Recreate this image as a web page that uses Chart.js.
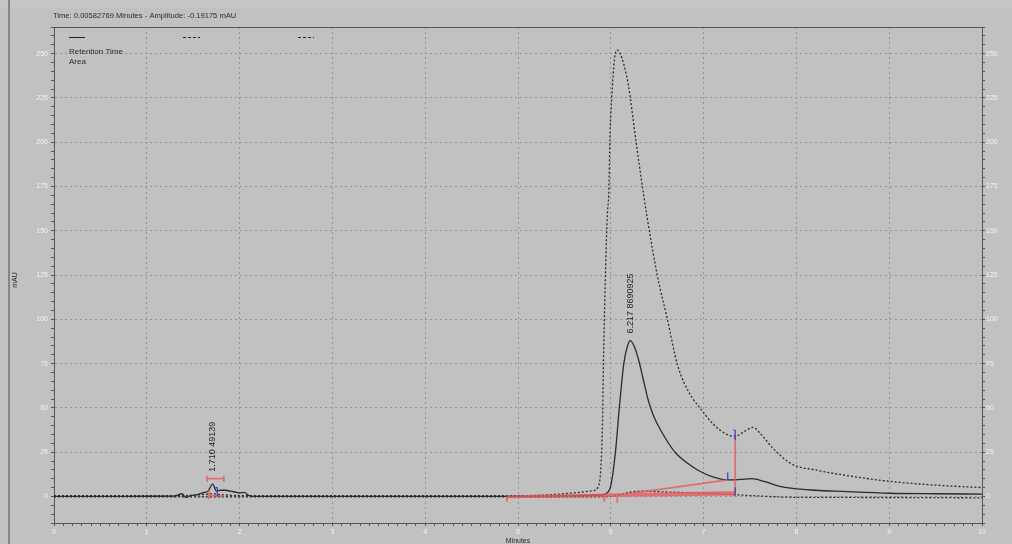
<!DOCTYPE html>
<html>
<head>
<meta charset="utf-8">
<script src="https://cdn.jsdelivr.net/npm/chart.js@4/dist/chart.umd.min.js"></script>
<style>
  html, body { margin: 0; padding: 0; background: #c1c1c1; }
  #wrap { position: relative; width: 1012px; height: 544px; overflow: hidden; }
  canvas { display: block; }
</style>
</head>
<body>
<div id="wrap"><canvas id="c" width="1012" height="544"></canvas></div>
<script>
// ---------- data ----------
const headerText = 'Time: 0.00582769 Minutes - Amplitude: -0.19175 mAU';
const legendLabels = ['Retention Time', 'Area'];
const xTitle = 'Minutes';
const yTitle = 'mAU';

// trace 1 (solid)
const solidTime = [0, 0.5, 1.0, 1.3, 1.38, 1.42, 1.47, 1.55, 1.6, 1.66, 1.71, 1.75, 1.8, 1.85, 1.9, 1.95, 2.0, 2.05, 2.1, 2.2,
  3.0, 4.0, 4.88, 5.5, 5.9, 5.96, 6.0, 6.05, 6.09, 6.14, 6.18, 6.21, 6.25, 6.3, 6.35, 6.4, 6.45, 6.5, 6.61, 6.7, 6.82, 6.95,
  7.1, 7.25, 7.4, 7.52, 7.65, 7.8, 7.96, 8.2, 8.5, 9.0, 9.5, 10.0];
const solidAmp = [0, 0, 0.1, 0.2, 1.5, -0.6, 0.5, 1.0, 2.0, 3.0, 7.0, 3.0, 3.5, 3.5, 3.0, 2.5, 2.0, 2.3, 0.5, 0,
  0, 0, 0, 0.3, 0.8, 2.0, 6.0, 25, 49, 75, 85, 88, 85, 77, 66, 55, 47, 41, 31, 24.5, 19, 14.5,
  11, 9.3, 9.6, 10, 8.5, 6.0, 4.5, 3.5, 2.8, 1.8, 1.5, 1.3];

// trace 2 (dashed, large)
const dashTime = [0, 1.0, 1.4, 1.6, 1.71, 1.8, 2.0, 2.5, 3.0, 4.0, 4.9, 5.3, 5.53, 5.7, 5.8, 5.86, 5.91, 5.92, 5.96, 5.98,
  5.99, 6.01, 6.04, 6.07, 6.1, 6.14, 6.19, 6.27, 6.34, 6.39, 6.5, 6.61, 6.72, 6.85, 6.96, 7.1, 7.25, 7.34, 7.45, 7.53, 7.62,
  7.75, 7.96, 8.2, 8.47, 9.01, 9.55, 10.0];
const dashAmp = [0.4, 0.4, 0.5, 1.0, 1.5, 1.0, 0.5, 0.4, 0.4, 0.4, 0.4, 0.8, 1.7, 2.5, 3.2, 5, 40, 73, 156, 174,
  201, 225, 247, 252, 250, 244, 232, 201, 175, 158, 125, 100, 74, 58, 50, 41, 35, 34, 37, 39, 35,
  27, 18, 15, 12.4, 8.5, 6.2, 5.0];

// trace 3 (dashed, flat)
const flatTime = [0, 2.0, 4.0, 5.5, 6.0, 6.1, 6.2, 6.35, 6.6, 7.0, 7.34, 7.5, 8.0, 9.0, 10.0];
const flatAmp = [-0.3, -0.3, -0.3, -0.3, 0, 1.0, 2.3, 3.0, 2.5, 1.8, 1.0, 0.5, -0.5, -0.6, -0.8];

// peak annotations
const peakTimes = [1.710, 6.217];
const peakAreas = [49139, 8690925];
const peakLabelAt = [10, 88];

// integration marks: [x1, y1, x2, y2]
const redSegments = [
  [1.65, 10, 1.83, 10], [1.65, 8.3, 1.65, 11.7], [1.83, 8.3, 1.83, 11.7],
  [1.65, 0.3, 1.83, 0.3], [1.67, -1.5, 1.67, 3.5],
  [4.88, -0.5, 7.34, 1.0], [4.88, 0.0, 7.34, 2.6], [6.05, 0.5, 7.26, 9.3], [6.05, 0.3, 7.34, 1.8],
  [7.34, 0, 7.34, 34], [4.88, 0, 4.88, -3], [5.93, 0, 5.93, -3], [6.07, 0, 6.07, -3.5]
];
const blueSegments = [
  [1.76, 0, 1.76, 5], [1.74, 5, 1.76, 5],
  [7.34, 32, 7.34, 37.5], [7.32, 37.5, 7.34, 37.5],
  [7.26, 9.3, 7.26, 13.5], [7.34, 0.5, 7.34, 5]
];

// axis
const xMin = 0, xMax = 10, xStep = 0.1;
const yMin = -15, yMax = 265, yStep = 5, yMajor = 25;

// ---------- helpers ----------
const pts = (xs, ys) => xs.map((x, i) => ({ x: x, y: ys[i] }));
const segPts = (segs) => {
  const out = [];
  segs.forEach(s => { out.push({ x: s[0], y: s[1] }, { x: s[2], y: s[3] }, { x: s[2], y: null }); });
  return out;
};
const isMajorX = v => Math.abs(v - Math.round(v)) < 1e-6;
const isMajorY = v => Math.abs(v % yMajor) < 1e-6;

const TICK_FONT = { family: 'Liberation Sans, Arial, sans-serif', size: 7 };
const TICK_COLOR = '#f3f3f3';
const GRID_COLOR = '#939393';
const AXIS_COLOR = '#555555';

const extras = {
  id: 'extras',
  beforeDraw(chart) {
    const c = chart.ctx;
    c.save();
    c.fillStyle = '#c1c1c1';
    c.fillRect(0, 0, chart.width, chart.height);
    c.fillStyle = '#c6c6c6';
    c.fillRect(0, 0, chart.width, 8);
    c.fillStyle = '#858585';
    c.fillRect(8, 0, 2, chart.height);
    c.restore();
  },
  afterDatasetsDraw(chart) {
    const c = chart.ctx;
    const xs = chart.scales.x, ys = chart.scales.y;
    c.save();
    c.fillStyle = '#222';
    c.font = '9px "Liberation Sans", Arial, sans-serif';
    c.textAlign = 'left';
    c.textBaseline = 'middle';
    peakTimes.forEach((t, i) => {
      const px = xs.getPixelForValue(t);
      const py = ys.getPixelForValue(peakLabelAt[i]);
      c.save();
      c.translate(px, py - 7);
      c.rotate(-Math.PI / 2);
      c.fillText(t.toFixed(3) + ' ' + peakAreas[i], 0, 0);
      c.restore();
    });
    c.restore();
  },
  afterDraw(chart) {
    const c = chart.ctx;
    const a = chart.chartArea;
    c.save();
    // frame top
    c.strokeStyle = AXIS_COLOR;
    c.lineWidth = 1;
    c.beginPath();
    c.moveTo(a.left, a.top + 0.5); c.lineTo(a.right, a.top + 0.5);
    c.stroke();
    // header
    c.fillStyle = '#2a2a2a';
    c.font = '7.6px "Liberation Sans", Arial, sans-serif';
    c.textBaseline = 'middle';
    c.textAlign = 'left';
    c.fillText(headerText, 53, 15.5);
    // legend
    c.strokeStyle = '#222';
    c.lineWidth = 1;
    c.beginPath(); c.moveTo(69, 37.5); c.lineTo(85, 37.5); c.stroke();
    c.setLineDash([3, 2]);
    c.beginPath(); c.moveTo(183, 37.5); c.lineTo(200, 37.5); c.stroke();
    c.beginPath(); c.moveTo(298, 37.5); c.lineTo(314, 37.5); c.stroke();
    c.setLineDash([]);
    c.font = '8px "Liberation Sans", Arial, sans-serif';
    c.fillStyle = '#2a2a2a';
    c.fillText(legendLabels[0], 69, 52);
    c.fillText(legendLabels[1], 69, 62);
    // axis titles
    c.font = '7px "Liberation Sans", Arial, sans-serif';
    c.save();
    c.translate(15, (a.top + a.bottom) / 2 + 5);
    c.rotate(-Math.PI / 2);
    c.textAlign = 'center';
    c.fillText(yTitle, 0, 0);
    c.restore();
    c.textAlign = 'center';
    c.textBaseline = 'top';
    c.fillText(xTitle, (a.left + a.right) / 2, 538);
    c.restore();
  }
};

const yScale = (pos, width) => ({
  type: 'linear', position: pos, min: yMin, max: yMax,
  ticks: {
    stepSize: yStep, autoSkip: false, color: TICK_COLOR, font: TICK_FONT, padding: pos === 'left' ? 3 : 1,
    callback: v => (isMajorY(v) && v >= 0 && v <= 250) ? String(v) : ''
  },
  grid: {
    drawOnChartArea: pos === 'left',
    color: ctx => (ctx.tick && isMajorY(ctx.tick.value) && ctx.tick.value > yMin) ? GRID_COLOR : 'rgba(0,0,0,0)',
    tickColor: AXIS_COLOR, tickLength: 3, lineWidth: 1
  },
  border: { color: AXIS_COLOR, width: 1, dash: [2, 3] },
  afterFit: s => { s.width = width; }
});

new Chart(document.getElementById('c'), {
  type: 'line',
  data: {
    datasets: [
      { label: 'blue', data: segPts(blueSegments), borderColor: '#2f3fc4', borderWidth: 1.2, pointRadius: 0, spanGaps: false, tension: 0 },
      { label: 'red', data: segPts(redSegments), borderColor: 'rgba(230,90,95,0.8)', borderWidth: 1.8, pointRadius: 0, spanGaps: false, tension: 0 },
      { label: 'trace1', data: pts(solidTime, solidAmp), borderColor: '#2b2b2b', borderWidth: 1.3, pointRadius: 0, cubicInterpolationMode: 'monotone' },
      { label: 'trace2', data: pts(dashTime, dashAmp), borderColor: '#2b2b2b', borderWidth: 1.3, borderDash: [2, 2], pointRadius: 0, cubicInterpolationMode: 'monotone' },
      { label: 'trace3', data: pts(flatTime, flatAmp), borderColor: '#2b2b2b', borderWidth: 1.3, borderDash: [2, 2], pointRadius: 0, cubicInterpolationMode: 'monotone' }
    ]
  },
  options: {
    responsive: false,
    animation: false,
    layout: { padding: { top: 27, left: 0, right: 0, bottom: 0 } },
    plugins: { legend: { display: false }, tooltip: { enabled: false }, title: { display: false } },
    scales: {
      x: {
        type: 'linear', min: xMin, max: xMax,
        ticks: {
          stepSize: xStep, autoSkip: false, maxRotation: 0, minRotation: 0, color: TICK_COLOR, font: TICK_FONT, padding: 2,
          callback: v => isMajorX(v) ? String(Math.round(v)) : ''
        },
        grid: {
          color: ctx => (ctx.tick && isMajorX(ctx.tick.value) && ctx.tick.value > xMin && ctx.tick.value < xMax) ? GRID_COLOR : 'rgba(0,0,0,0)',
          tickColor: AXIS_COLOR, tickLength: 3, lineWidth: 1
        },
        border: { color: AXIS_COLOR, width: 1, dash: [2, 3] },
        afterFit: s => { s.height = 21; }
      },
      y: yScale('left', 54),
      y2: yScale('right', 30)
    }
  },
  plugins: [extras]
});
</script>
</body>
</html>
